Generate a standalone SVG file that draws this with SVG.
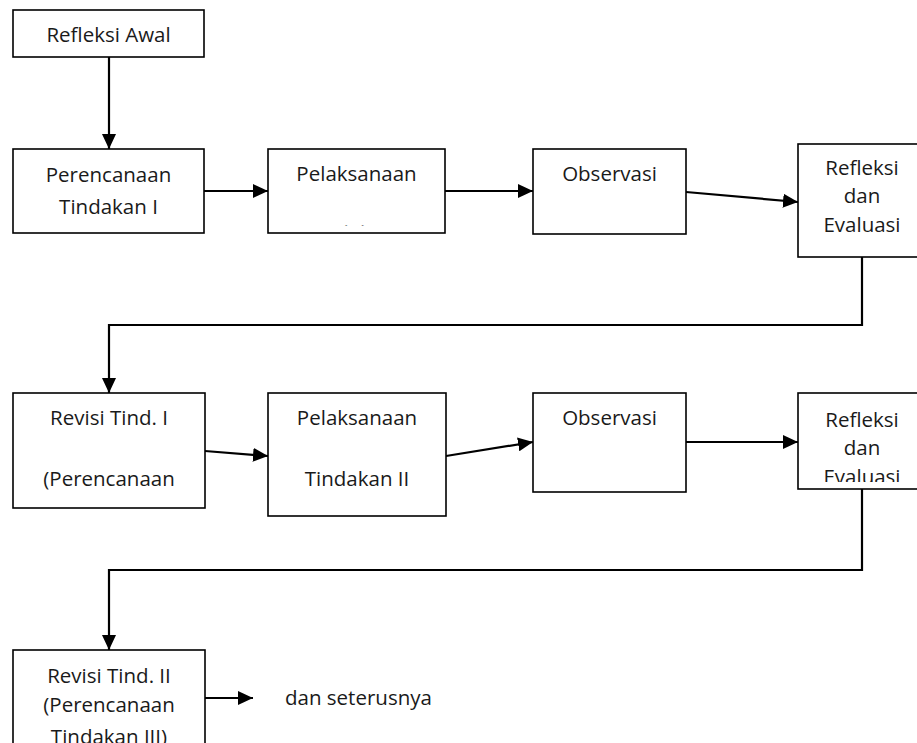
<svg xmlns="http://www.w3.org/2000/svg" width="917" height="743" viewBox="0 0 917 743">
<style>
.box{fill:#fff;stroke:#000;stroke-width:1.6}
.t{font-family:"Open Sans","Noto Sans",sans-serif;font-size:20.5px;fill:#1a1a1a;text-anchor:middle}
.tl{font-family:"Open Sans","Noto Sans",sans-serif;font-size:20.5px;fill:#1a1a1a}
.c{fill:none;stroke:#000;stroke-width:2.2}
</style>
<defs>
<marker id="ah" viewBox="0 0 15 14" refX="15" refY="7" markerWidth="15" markerHeight="14" markerUnits="userSpaceOnUse" orient="auto">
<path d="M0,0 L15,7 L0,14 z" fill="#000"/>
</marker>
<clipPath id="clipPel"><rect x="268" y="149" width="177" height="76.5"/></clipPath>
<clipPath id="clipRef2"><rect x="798" y="393" width="128" height="89"/></clipPath>
</defs>
<g id="connectors">
<path class="c" d="M109,57 V149" marker-end="url(#ah)"/>
<path class="c" d="M204,191 H268" marker-end="url(#ah)"/>
<path class="c" d="M445,191 H533" marker-end="url(#ah)"/>
<path class="c" d="M686,192 L798,202" marker-end="url(#ah)"/>
<path class="c" d="M862,257 V325 H109 V393" marker-end="url(#ah)"/>
<path class="c" d="M205,451 L268,456" marker-end="url(#ah)"/>
<path class="c" d="M446,456 L533,442" marker-end="url(#ah)"/>
<path class="c" d="M686,442 H798" marker-end="url(#ah)"/>
<path class="c" d="M862,489 V570 H109 V650" marker-end="url(#ah)"/>
<path class="c" d="M205,698 H253" marker-end="url(#ah)"/>
</g>
<g id="refleksi-awal">
<rect class="box" x="13" y="10" width="191" height="47"/>
<text class="t" x="108.5" y="42">Refleksi Awal</text>
</g>
<g id="perencanaan-1">
<rect class="box" x="13" y="149" width="191" height="84"/>
<text class="t" x="108.5" y="182">Perencanaan</text>
<text class="t" x="108.5" y="214">Tindakan I</text>
</g>
<g id="pelaksanaan-1">
<rect class="box" x="268" y="149" width="177" height="84"/>
<text class="t" x="356.5" y="181">Pelaksanaan</text>
<text class="t" x="356.5" y="240" clip-path="url(#clipPel)">Tindakan I</text>
</g>
<g id="observasi-1">
<rect class="box" x="533" y="149" width="153" height="85"/>
<text class="t" x="609.5" y="181">Observasi</text>
</g>
<g id="refleksi-1">
<rect class="box" x="798" y="144" width="128" height="113"/>
<text class="t" x="862" y="175">Refleksi</text>
<text class="t" x="862" y="203">dan</text>
<text class="t" x="862" y="232">Evaluasi</text>
</g>
<g id="revisi-1">
<rect class="box" x="13" y="393" width="192" height="115"/>
<text class="t" x="109" y="425">Revisi Tind. I</text>
<text class="t" x="109" y="486">(Perencanaan</text>
</g>
<g id="pelaksanaan-2">
<rect class="box" x="268" y="393" width="178" height="123"/>
<text class="t" x="357" y="425">Pelaksanaan</text>
<text class="t" x="357" y="486">Tindakan II</text>
</g>
<g id="observasi-2">
<rect class="box" x="533" y="393" width="153" height="99"/>
<text class="t" x="609.5" y="425">Observasi</text>
</g>
<g id="refleksi-2">
<rect class="box" x="798" y="393" width="128" height="96"/>
<text class="t" x="862" y="427">Refleksi</text>
<text class="t" x="862" y="455">dan</text>
<text class="t" x="862" y="484" clip-path="url(#clipRef2)">Evaluasi</text>
</g>
<g id="revisi-2">
<rect class="box" x="13" y="650" width="192" height="110"/>
<text class="t" x="109" y="683">Revisi Tind. II</text>
<text class="t" x="109" y="712">(Perencanaan</text>
<text class="t" x="109" y="744">Tindakan III)</text>
</g>
<g id="dan-seterusnya">
<text class="tl" x="285" y="705">dan seterusnya</text>
</g>
</svg>
